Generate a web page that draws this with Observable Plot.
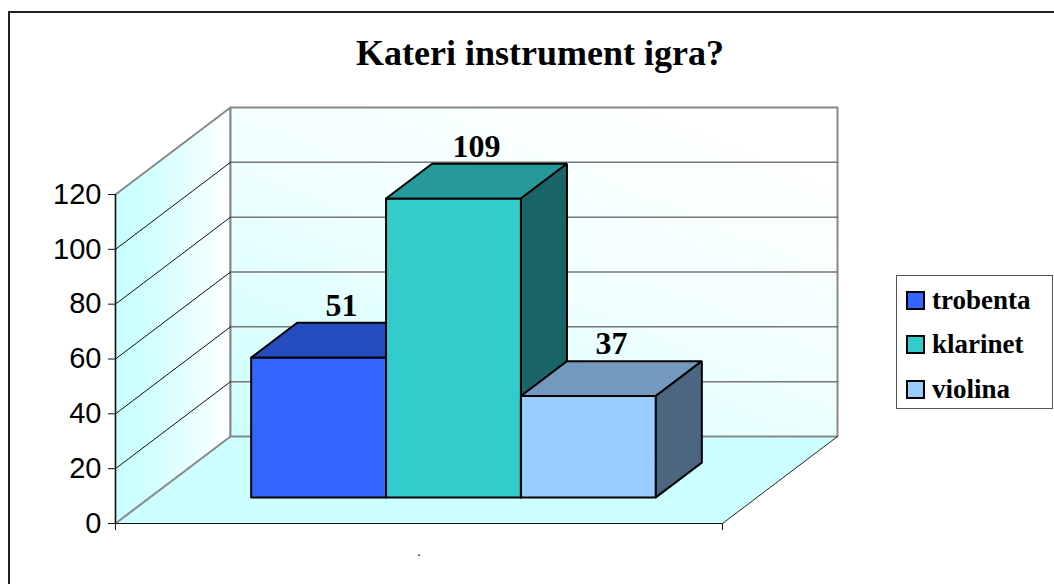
<!DOCTYPE html>
<html>
<head>
<meta charset="utf-8">
<script src="https://cdn.jsdelivr.net/npm/d3@7"></script>
<script src="https://cdn.jsdelivr.net/npm/@observablehq/plot@0.6"></script>
<style>
  html, body { margin: 0; padding: 0; background: #fff; }
  #wrap { position: relative; width: 1054px; height: 584px; overflow: hidden; background: #fff; }
  #frame { position: absolute; left: 8px; top: 11px; width: 1200px; height: 700px;
           border-left: 2px solid #222; border-top: 2px solid #222; }
  #chart { position: absolute; left: 0; top: 0; }
  #title { position: absolute; left: 290px; width: 500px; top: 35px; text-align: center;
           font: bold 36px "Liberation Serif", "DejaVu Serif", serif; line-height: 36px; color: #000; }
  #legend { position: absolute; left: 896px; top: 275px; width: 155px; height: 132px;
            border: 1.5px solid #555; background: #fff; box-sizing: content-box; }
  .row { position: absolute; left: 9px; height: 30px; display: flex; align-items: center;
         font: bold 27px "Liberation Serif", "DejaVu Serif", serif; color: #000; }
  .sw { width: 15px; height: 15px; border: 2px solid #000; margin-right: 7px; }
</style>
</head>
<body>
<div id="wrap">
  <div id="frame"></div>
  <div id="chart"></div>
  <div id="title"></div>
  <div id="legend"></div>
</div>
<script>
// ---- data ----
const chartTitle = "Kateri instrument igra?";
const series = ["trobenta", "klarinet", "violina"];
const values = [51, 109, 37];
const seriesColors = ["#3366FF", "#33CCCC", "#99CCFF"];
const categoryLabels = ["."];
const yTicks = [0, 20, 40, 60, 80, 100, 120];
const gridValues = [20, 40, 60, 80, 100];

// ---- 3D oblique projection in data units ----
const yMax = 120;
const DX = 115 / 607;          // depth shift along x (category width = 1)
const DY = 87 / (329 / 120);   // depth shift along y (value units)
const P = (x, v, d) => ({x: x + d * DX, y: v + d * DY});
const poly = (pts) => { const a = pts.map(([x, v, d]) => P(x, v, d)); a.push(a[0]); return a; };

const gapWidth = 1.5;
const barW = 1 / (series.length + gapWidth);
const x0 = barW * gapWidth / 2;
const d0 = 0.3, d1 = 0.7;

const shade = (c, k) => d3.interpolateRgb(c, "#000")(k);

const defs = () => {
  const g = d3.create("svg:defs");
  const side = g.append("linearGradient").attr("id", "gSide").attr("x1", 0).attr("y1", 0).attr("x2", 1).attr("y2", 0);
  side.append("stop").attr("offset", 0).attr("stop-color", "#c8ffff");
  side.append("stop").attr("offset", 0.3).attr("stop-color", "#d0ffff");
  side.append("stop").attr("offset", 1).attr("stop-color", "#ffffff");
  const back = g.append("linearGradient").attr("id", "gBack").attr("x1", 0).attr("y1", 1).attr("x2", 0.75).attr("y2", 0);
  back.append("stop").attr("offset", 0).attr("stop-color", "#ccffff");
  back.append("stop").attr("offset", 0.55).attr("stop-color", "#f0ffff");
  back.append("stop").attr("offset", 1).attr("stop-color", "#ffffff");
  return g.node();
};

const marks = [defs];

// floor
marks.push(Plot.line(poly([[0,0,0],[1,0,0],[1,0,1],[0,0,1]]), {x: "x", y: "y", fill: "#ccffff", stroke: "none"}));
// side wall
marks.push(Plot.line(poly([[0,0,0],[0,0,1],[0,yMax,1],[0,yMax,0]]), {x: "x", y: "y", fill: "url(#gSide)", stroke: "#888", strokeWidth: 2}));
// back wall
marks.push(Plot.line(poly([[0,0,1],[1,0,1],[1,yMax,1],[0,yMax,1]]), {x: "x", y: "y", fill: "url(#gBack)", stroke: "#888", strokeWidth: 2}));
// floor right edge
marks.push(Plot.line([P(1,0,0), P(1,0,1)], {x: "x", y: "y", stroke: "#222", strokeWidth: 1}));

// gridlines
const sideGrid = gridValues.flatMap(v => [P(0,v,0), P(0,v,1)].map(p => ({...p, v})));
const backGrid = gridValues.flatMap(v => [P(0,v,1), P(1,v,1)].map(p => ({...p, v})));
marks.push(Plot.line(backGrid, {x: "x", y: "y", z: "v", stroke: "#777", strokeWidth: 1.5}));
marks.push(Plot.line(sideGrid, {x: "x", y: "y", z: "v", stroke: "#111", strokeWidth: 1}));

// floor front edge and y axis line
marks.push(Plot.ruleY([0], {x1: 0, x2: 1, stroke: "#111", strokeWidth: 1.2}));
marks.push(Plot.ruleX([0], {y1: 0, y2: yMax, stroke: "#111", strokeWidth: 1.2}));

// bars
values.forEach((v, i) => {
  const xl = x0 + i * barW, xr = xl + barW;
  const c = seriesColors[i];
  const opts = {x: "x", y: "y", stroke: "#000", strokeWidth: 2, strokeLinejoin: "miter"};
  marks.push(Plot.line(poly([[xl,0,d0],[xr,0,d0],[xr,v,d0],[xl,v,d0]]), {...opts, fill: c}));
  marks.push(Plot.line(poly([[xl,v,d0],[xr,v,d0],[xr,v,d1],[xl,v,d1]]), {...opts, fill: shade(c, 0.25)}));
  marks.push(Plot.line(poly([[xr,0,d0],[xr,0,d1],[xr,v,d1],[xr,v,d0]]), {...opts, fill: shade(c, 0.5)}));
});

// value labels: centred over the bar's top face, just above its back edge
const labels = values.map((v, i) => ({x: x0 + i * barW + barW / 2 + 0.5 * DX, y: P(0, v, d1).y, text: String(v)}));
marks.push(Plot.text(labels, {x: "x", y: "y", text: "text", dy: -7, lineAnchor: "bottom",
  fontSize: 32, fontWeight: "bold", fontFamily: "Liberation Serif, DejaVu Serif, serif", fill: "#000"}));

// axes
marks.push(Plot.axisY({ticks: yTicks, tickSize: 7, tickPadding: 7, fontSize: 29,
  fontFamily: "Liberation Sans, Arial, sans-serif", stroke: "#111", fill: "#000", label: null}));
marks.push(Plot.axisX({ticks: [0, 1], tickSize: 7, tickFormat: () => "", stroke: "#111", label: null}));
marks.push(Plot.text(categoryLabels.map((t, i) => ({x: (i + 0.5) / categoryLabels.length, y: 0, t})),
  {x: "x", y: "y", text: "t", dy: 32, lineAnchor: "bottom", fontSize: 14, fontFamily: "Liberation Sans, Arial", fill: "#000"}));

const chart = Plot.plot({
  width: 1054, height: 584,
  marginLeft: 115, marginRight: 332, marginTop: 194, marginBottom: 61,
  x: {domain: [0, 1]},
  y: {domain: [0, yMax]},
  style: {background: "transparent", overflow: "visible"},
  marks
});
document.getElementById("chart").appendChild(chart);

document.getElementById("title").textContent = chartTitle;

const legend = document.getElementById("legend");
series.forEach((s, i) => {
  const row = document.createElement("div");
  row.className = "row";
  row.style.top = (9 + i * 44.5) + "px";
  const sw = document.createElement("div");
  sw.className = "sw";
  sw.style.background = seriesColors[i];
  const t = document.createElement("span");
  t.textContent = s;
  row.appendChild(sw); row.appendChild(t);
  legend.appendChild(row);
});
</script>
</body>
</html>
